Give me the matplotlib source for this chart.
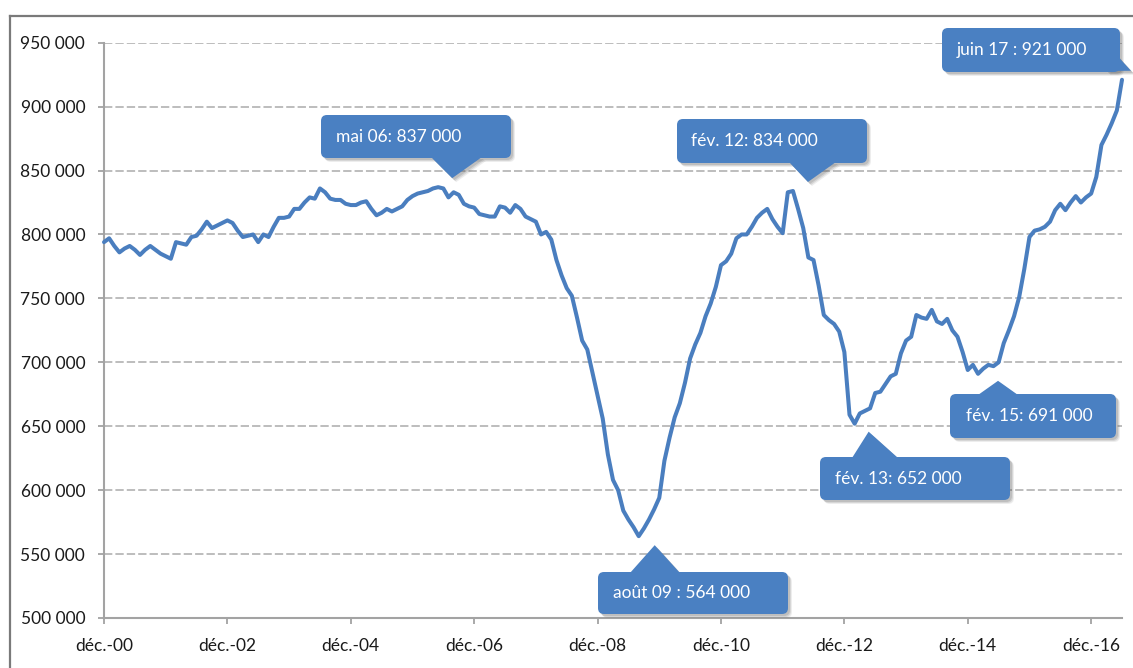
import matplotlib
matplotlib.use("Agg")
import matplotlib.pyplot as plt
from matplotlib.patches import FancyBboxPatch, Polygon
from matplotlib.transforms import Affine2D
from matplotlib.lines import Line2D

plt.rcParams['font.family'] = ['Lato', 'DejaVu Sans']
plt.rcParams['lines.scale_dashes'] = False

# Monthly series, December 2000 to June 2017 (thousands)
values_k = [
    794, 797, 791, 786, 789, 791, 788, 784, 788, 791, 788, 785,
    783, 781, 794, 793, 792, 798, 799, 804, 810, 805, 807, 809,
    811, 809, 803, 798, 799, 800, 794, 800, 798, 806, 813, 813,
    814, 820, 820, 825, 829, 828, 836, 833, 828, 827, 827, 824,
    823, 823, 825, 826, 820, 815, 817, 820, 818, 820, 822, 827,
    830, 832, 833, 834, 836, 837, 836, 829, 833, 831, 824, 822,
    821, 816, 815, 814, 814, 822, 821, 817, 823, 820, 814, 812,
    810, 800, 802, 796, 780, 768, 758, 752, 735, 717, 710, 692,
    674, 656, 628, 608, 600, 584, 577, 571, 564, 570, 577, 585,
    594, 623, 641, 657, 668, 684, 703, 714, 723, 736, 746, 759,
    776, 779, 785, 797, 800, 800, 806, 813, 817, 820, 812, 806,
    801, 833, 834, 820, 805, 782, 780, 760, 737, 733, 730, 724,
    708, 659, 652, 660, 662, 664, 676, 677, 683, 689, 691, 707,
    717, 720, 737, 735, 734, 741, 732, 730, 734, 725, 720, 708,
    694, 698, 691, 695, 698, 697, 700, 715, 725, 736, 751, 773,
    798, 803, 804, 806, 810, 819, 824, 819, 825, 830, 825, 829,
    832, 845, 870, 878, 887, 897, 921,
]
values = [v * 1000 for v in values_k]
months = list(range(len(values)))

x_tick_pos = [0, 24, 48, 72, 96, 120, 144, 168, 192]
x_tick_labels = ['déc.-00', 'déc.-02', 'déc.-04', 'déc.-06', 'déc.-08',
                 'déc.-10', 'déc.-12', 'déc.-14', 'déc.-16']
y_ticks = list(range(500000, 950001, 50000))

# Annotated months and their label prefixes
note_months = [65, 104, 134, 146, 170, 198]
note_prefix = ['mai 06: ', 'août 09 : ', 'fév. 12: ', 'fév. 13: ', 'fév. 15: ', 'juin 17 : ']

W, H, DPI = 1133, 668, 100
BLUE_LINE = '#4a7ebf'
BLUE_BOX = '#4a80c2'
GRID = '#ababab'
AXIS = '#a3a3a3'


def fmt(v):
    return f"{int(v):,}".replace(",", " ")


fig = plt.figure(figsize=(W / DPI, H / DPI), dpi=DPI)
fig.patch.set_facecolor('white')
# pixel coordinates with the origin at the top-left corner
tpx = Affine2D().scale(1 / DPI, -1 / DPI).translate(0, H / DPI) + fig.dpi_scale_trans

# outer frame
fig.add_artist(Line2D([9.5, W + 10], [15.5, 15.5], transform=tpx, color='#7a7a7a', lw=1.6))
fig.add_artist(Line2D([9.5, 9.5], [15.5, H + 10], transform=tpx, color='#7a7a7a', lw=1.6))

left, right, top, bottom = 104, 1122, 42.7, 618
ax = fig.add_axes([left / W, 1 - bottom / H, (right - left) / W, (bottom - top) / H])
ax.set_xlim(0, len(values) - 1)
ax.set_ylim(500000, 950000)

ax.plot(months, values, color=BLUE_LINE, lw=2.9, solid_joinstyle='round',
        solid_capstyle='round', clip_on=False, zorder=3)

ax.set_yticks(y_ticks)
ax.set_yticklabels([fmt(v) for v in y_ticks])
ax.set_xticks(x_tick_pos)
ax.set_xticklabels(x_tick_labels)
ax.yaxis.grid(True, color=GRID, linestyle=(0, (6, 2.2)), linewidth=1.1)
ax.set_axisbelow(True)
for s in ['top', 'right']:
    ax.spines[s].set_visible(False)
for s in ['left', 'bottom']:
    ax.spines[s].set_color(AXIS)
    ax.spines[s].set_linewidth(1.5)
ax.tick_params(axis='both', colors=AXIS, width=1.3, length=4.5, labelcolor='#1a1a1a',
               labelsize=12.5)
ax.tick_params(axis='y', pad=9)
ax.tick_params(axis='x', pad=10)

# callout boxes: (x0, y0, x1, y1) in pixels, pointer base, tip offset from the point
boxes = [
    (321, 115, 511, 158),
    (598, 572, 788, 614),
    (677, 119, 867, 163),
    (820, 457, 1010, 500),
    (950, 394, 1116, 438),
    (942, 28, 1120, 72),
]
bases = [
    [(431, 157), (482, 157)],
    [(630, 573), (680, 573)],
    [(789, 162), (836, 162)],
    [(852, 458), (898, 458)],
    [(978, 395), (1018, 395)],
    [(1112, 50), (1106, 71)],
]
tip_offsets = [(14, -9), (16, 9), (15, -9), (14, 8), (20, 7), (9, -9)]
text_left = [336, 613, 691, 835, 966, 957]

fig.canvas.draw()
inv = fig.dpi_scale_trans.inverted()


def to_px(xd, yd):
    d = ax.transData.transform((xd, yd))
    i = inv.transform(d)
    return i[0] * DPI, H - i[1] * DPI


for k, m in enumerate(note_months):
    x0, y0, x1, y1 = boxes[k]
    px, py = to_px(m, values[m])
    tip = (px + tip_offsets[k][0], py + tip_offsets[k][1])
    tri = [bases[k][0], tip, bases[k][1]]
    # soft shadow
    for off, a in [(4, 0.10), (3, 0.15), (2, 0.18)]:
        fig.add_artist(FancyBboxPatch((x0 + off, y0 + off), x1 - x0, y1 - y0,
                                      boxstyle='round,pad=0,rounding_size=6',
                                      transform=tpx, facecolor='#555555',
                                      edgecolor='none', alpha=a))
        fig.add_artist(Polygon([(p[0] + off, p[1] + off) for p in tri], closed=True,
                               transform=tpx, facecolor='#555555', edgecolor='none',
                               alpha=a))
    fig.add_artist(FancyBboxPatch((x0, y0), x1 - x0, y1 - y0,
                                  boxstyle='round,pad=0,rounding_size=6',
                                  transform=tpx, facecolor=BLUE_BOX, edgecolor='none'))
    fig.add_artist(Polygon(tri, closed=True, transform=tpx, facecolor=BLUE_BOX,
                           edgecolor='none'))
    fig.text(text_left[k], (y0 + y1) / 2, note_prefix[k] + fmt(values[m]),
             transform=tpx, color='white', fontsize=12.5, va='center', ha='left')

fig.savefig('out.png', dpi=DPI, facecolor='white')
